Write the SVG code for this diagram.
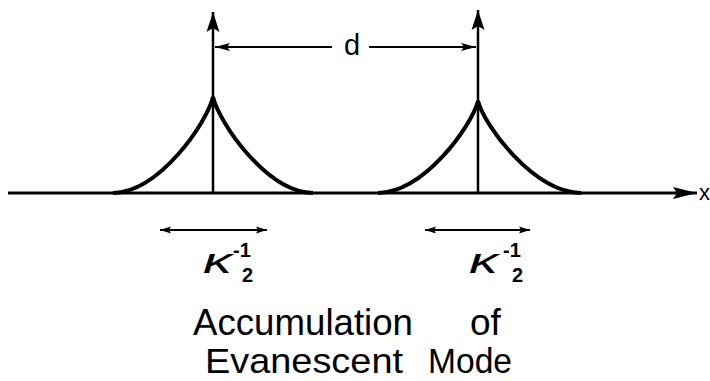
<svg xmlns="http://www.w3.org/2000/svg" width="710" height="381" viewBox="0 0 710 381">
<style>
.ln{stroke:#000;fill:none}
.crv{stroke:#000;fill:none;stroke-width:4;stroke-linejoin:miter}
.t{font-family:"Liberation Sans",Arial,sans-serif;fill:#000}
.k{font-family:"Liberation Sans",Arial,sans-serif;font-style:italic;fill:#000}
.s{font-family:"Liberation Sans",Arial,sans-serif;font-weight:bold;fill:#000}
</style>
<defs>
<marker id="big" markerUnits="userSpaceOnUse" markerWidth="30" markerHeight="16" refX="24" refY="7" orient="auto"><path d="M0,1 L24,7 L0,13 L4,7 z" fill="#000"/></marker>
<marker id="mid" markerUnits="userSpaceOnUse" markerWidth="24" markerHeight="16" refX="20" refY="7" orient="auto"><path d="M0,0.5 L20,7 L0,13.5 L4,7 z" fill="#000"/></marker>
<marker id="sm" markerUnits="userSpaceOnUse" markerWidth="18" markerHeight="12" refX="15" refY="5" orient="auto-start-reverse"><path d="M0,1 L15,5 L0,9 L3,5 z" fill="#000"/></marker>
<marker id="ti" markerUnits="userSpaceOnUse" markerWidth="14" markerHeight="10" refX="11" refY="4" orient="auto-start-reverse"><path d="M0,0.5 L11,4 L0,7.5 L2,4 z" fill="#000"/></marker>
</defs>
<rect width="710" height="381" fill="#fff"/>
<g id="connectors">
<line class="ln" x1="8" y1="193" x2="697" y2="193" stroke-width="3" marker-end="url(#big)"/>
<line class="ln" x1="213" y1="193" x2="213" y2="12" stroke-width="2.5" marker-end="url(#mid)"/>
<line class="ln" x1="478" y1="192" x2="478" y2="10" stroke-width="2.5" marker-end="url(#mid)"/>
<line class="ln" x1="332" y1="47" x2="215" y2="47" stroke-width="2" marker-end="url(#sm)"/>
<line class="ln" x1="369" y1="47" x2="476" y2="47" stroke-width="2" marker-end="url(#sm)"/>
<line class="ln" x1="160" y1="230" x2="267" y2="230" stroke-width="1.8" marker-start="url(#ti)" marker-end="url(#ti)"/>
<line class="ln" x1="425" y1="230" x2="530" y2="230" stroke-width="1.8" marker-start="url(#ti)" marker-end="url(#ti)"/>
</g>
<g id="peak1">
<path class="crv" d="M113,193 C160,192 207,122 213,97 C219,122 266,192 313,193"/>
</g>
<g id="peak2">
<path class="crv" d="M378,193 C425,192 472,125 478,101 C484,125 533,192 581,193"/>
</g>
<g id="labels">
<text class="t" x="352" y="55" font-size="29" text-anchor="middle">d</text>
<text class="t" x="699" y="200" font-size="22">x</text>
<text class="k" x="203" y="273" font-size="36" textLength="29" lengthAdjust="spacingAndGlyphs">κ</text>
<text class="s" x="233" y="257" font-size="20">-1</text>
<text class="s" x="242" y="282" font-size="20">2</text>
<text class="k" x="469" y="273" font-size="36" textLength="29" lengthAdjust="spacingAndGlyphs">κ</text>
<text class="s" x="503" y="257" font-size="20">-1</text>
<text class="s" x="512" y="282" font-size="20">2</text>
<text class="t" font-size="37"><tspan x="193" y="335" textLength="220" lengthAdjust="spacingAndGlyphs">Accumulation</tspan><tspan x="470" y="335">of</tspan></text>
<text class="t" font-size="35"><tspan x="205" y="373" textLength="198" lengthAdjust="spacingAndGlyphs">Evanescent</tspan><tspan x="428" y="373" textLength="84" lengthAdjust="spacingAndGlyphs">Mode</tspan></text>
</g>
</svg>
